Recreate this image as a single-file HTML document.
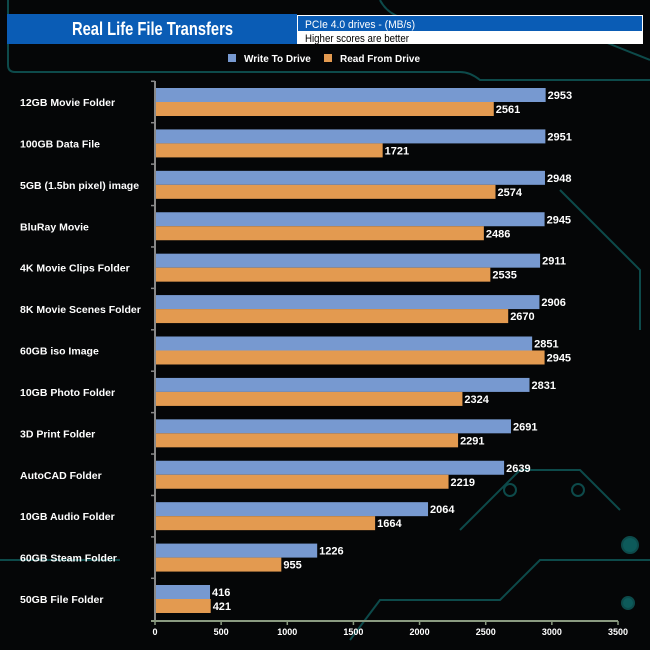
<!DOCTYPE html>
<html><head><meta charset="utf-8"><style>
body{margin:0;background:#050607;}
svg{display:block;font-family:"Liberation Sans",Arial,sans-serif;}
</style></head><body>
<svg id="c" width="650" height="650" viewBox="0 0 650 650">
<rect width="650" height="650" fill="#050607"/>
<g stroke="#0d4a4a" stroke-width="2" fill="none">
<path d="M8 0 V65 Q8 72 15 72 H460 Q470 72 480 80 H650"/>
<path d="M380 0 Q390 20 420 20 H560 Q580 20 600 40 L650 60"/>
<path d="M560 190 L640 270 V330"/>
<path d="M350 640 L380 600 H500 L540 560 H650"/>
<path d="M0 560 H120"/>
<path d="M460 530 L520 470 H580 L620 510"/>
<circle cx="630" cy="545" r="8" fill="#0d5a5a"/>
<circle cx="628" cy="603" r="6" fill="#0d5a5a"/>
<circle cx="510" cy="490" r="6"/><circle cx="578" cy="490" r="6"/>
</g>
<rect x="7" y="14" width="290" height="30" fill="#0a5cb5"/>
<text x="72" y="35" fill="#fff" font-size="18" font-weight="bold" textLength="161" lengthAdjust="spacingAndGlyphs">Real Life File Transfers</text>
<rect x="297" y="15" width="346" height="29" fill="#fff"/>
<rect x="298" y="16" width="344" height="15" fill="#0a5cb5"/>
<text x="305" y="28" fill="#fff" font-size="11" textLength="110" lengthAdjust="spacingAndGlyphs">PCIe 4.0 drives - (MB/s)</text>
<text x="305" y="42" fill="#000" font-size="11" textLength="104" lengthAdjust="spacingAndGlyphs">Higher scores are better</text>
<g>
<rect x="228" y="54" width="8" height="8" fill="#7799d0"/>
<text x="244" y="62" fill="#fff" font-size="10" font-weight="bold">Write To  Drive</text>
<rect x="324" y="54" width="8" height="8" fill="#e39a50"/>
<text x="340" y="62" fill="#fff" font-size="10" font-weight="bold">Read From  Drive</text>
</g>
<g id="plot"></g>
</svg>
<script>
const categories=["12GB Movie Folder","100GB Data File","5GB (1.5bn pixel) image","BluRay Movie","4K Movie Clips Folder","8K Movie Scenes Folder","60GB iso Image","10GB Photo Folder","3D Print Folder","AutoCAD Folder","10GB Audio Folder","60GB Steam Folder","50GB File Folder"];
const writeVals=[2953,2951,2948,2945,2911,2906,2851,2831,2691,2639,2064,1226,416];
const readVals=[2561,1721,2574,2486,2535,2670,2945,2324,2291,2219,1664,955,421];
const xTicks=[0,500,1000,1500,2000,2500,3000,3500];
const NS="http://www.w3.org/2000/svg";
const g=document.getElementById('plot');
const x0=155,x1=618,xmax=3500,yTop=81,axisY=621;
const X=v=>x0+v/xmax*(x1-x0);
const step=(599-102)/(categories.length-1);
const Yc=i=>102+i*step;
function el(t,a,txt){const e=document.createElementNS(NS,t);for(const k in a)e.setAttribute(k,a[k]);if(txt!=null)e.textContent=txt;g.appendChild(e);return e;}
const ya=el('line',{x1:x0,y1:yTop,x2:x0,y2:axisY,stroke:'#888','stroke-width':2});


categories.forEach((c,i)=>{
 const yc=Yc(i);
 const tk=el('line',{x1:x0-4,y1:yc-step/2,x2:x0,y2:yc-step/2,stroke:'#888','stroke-width':1.5});
 
 
 const lb=el('text',{x:20,y:yc+4,fill:'#fff','font-size':10.5,'font-weight':'bold'},c);
 
 
 const bw=el('rect',{x:x0+1,y:yc-14,width:X(writeVals[i])-x0-1,height:14,fill:'#7799d0'});
 
 
 const br=el('rect',{x:x0+1,y:yc,width:X(readVals[i])-x0-1,height:14,fill:'#e39a50'});
 
 
 const tw=el('text',{x:X(writeVals[i])+2,y:yc-3,fill:'#fff','font-size':11,'font-weight':'bold'},writeVals[i]);
 
 
 const tr=el('text',{x:X(readVals[i])+2,y:yc+11,fill:'#fff','font-size':11,'font-weight':'bold'},readVals[i]);
 
 
});
const xa=el('line',{x1:x0-4,y1:axisY,x2:x1,y2:axisY,stroke:'#8a9a80','stroke-width':2});


xTicks.forEach(t=>{
 const tk=el('line',{x1:X(t),y1:axisY,x2:X(t),y2:axisY+4,stroke:'#8a9a80','stroke-width':1.5});
 
 
 const tl=el('text',{x:X(t),y:axisY+14,fill:'#fff','font-size':9,'font-weight':'bold','text-anchor':'middle'},t);
 
 
});
</script>
</body></html>
